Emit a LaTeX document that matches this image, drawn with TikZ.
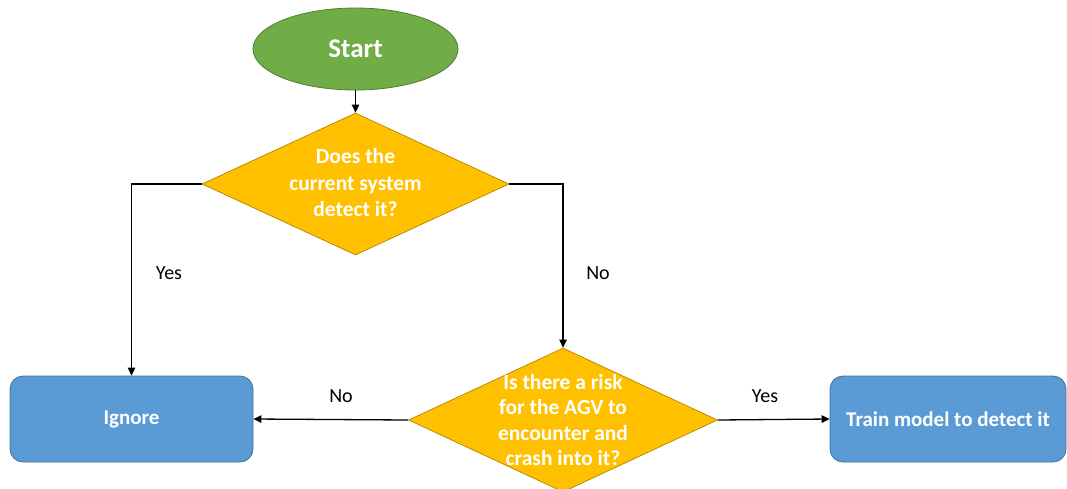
\documentclass[tikz,border=0pt]{standalone}
\usepackage{fontspec}
\setmainfont{Carlito}
\usetikzlibrary{shapes.geometric,arrows.meta}

\definecolor{startgreen}{HTML}{70AD47}
\definecolor{startedge}{HTML}{507E32}
\definecolor{decyellow}{HTML}{FFC000}
\definecolor{decedge}{HTML}{BC8C00}
\definecolor{actblue}{HTML}{5B9BD5}
\definecolor{actedge}{HTML}{41719C}

\tikzset{
  terminal/.style={ellipse, draw=startedge, fill=startgreen, line width=0.8pt,
    minimum width=205pt, minimum height=82pt, inner sep=0pt,
    text=white, font=\fontsize{27}{30}\selectfont\bfseries},
  decision/.style={diamond, draw=decedge, fill=decyellow, line width=0.8pt,
    minimum width=307pt, minimum height=142pt, inner sep=0pt},
  dtext/.style={align=center, text=white, inner sep=0pt},
  action/.style={rectangle, rounded corners=13pt, draw=actedge, fill=actblue,
    line width=0.8pt, minimum height=86pt, inner sep=0pt,
    text=white, font=\fontsize{21}{25}\selectfont\bfseries},
  flow/.style={line width=1.3pt, -{Triangle[length=8pt,width=7.5pt]}},
  branch/.style={font=\fontsize{20}{24}\selectfont, text=black}
}

\begin{document}
\begin{tikzpicture}[x=1pt, y=-1pt]
  \useasboundingbox (0,0) rectangle (1067,488);

  % shapes
  \node[terminal] (start) at (355.5,49) {Start};
  \node[decision] (d1) at (355.5,184) {};
  \node[dtext, font=\fontsize{21.5}{26.5}\selectfont\bfseries] (d1t) at (355.5,183) {Does the\\current system\\detect it?};
  \node[decision, minimum width=309pt, minimum height=144pt] (d2) at (563,420) {};
  \node[dtext, font=\fontsize{21.5}{25.5}\selectfont\bfseries] (d2t) at (563,420) {Is there a risk\\for the AGV to\\encounter and\\crash into it?};
  \node[action, minimum width=243pt] (ign) at (131.5,419) {Ignore};
  \node[action, minimum width=236pt] (train) at (948,419) {Train model to detect it};

  % connectors
  \draw[flow] (start.south) -- (d1.north);
  \draw[flow] (d1.west) -| (ign.north);
  \draw[flow] (d1.east) -| (d2.north);
  \draw[flow] (d2.west) -- (ign.east);
  \draw[flow] (d2.east) -- (train.west);

  % branch labels
  \node[branch] (lyes1) at (169,273) {Yes};
  \node[branch] (lno1) at (598,273) {No};
  \node[branch] (lno2) at (341,396) {No};
  \node[branch] (lyes2) at (765,396) {Yes};
\end{tikzpicture}
\end{document}
